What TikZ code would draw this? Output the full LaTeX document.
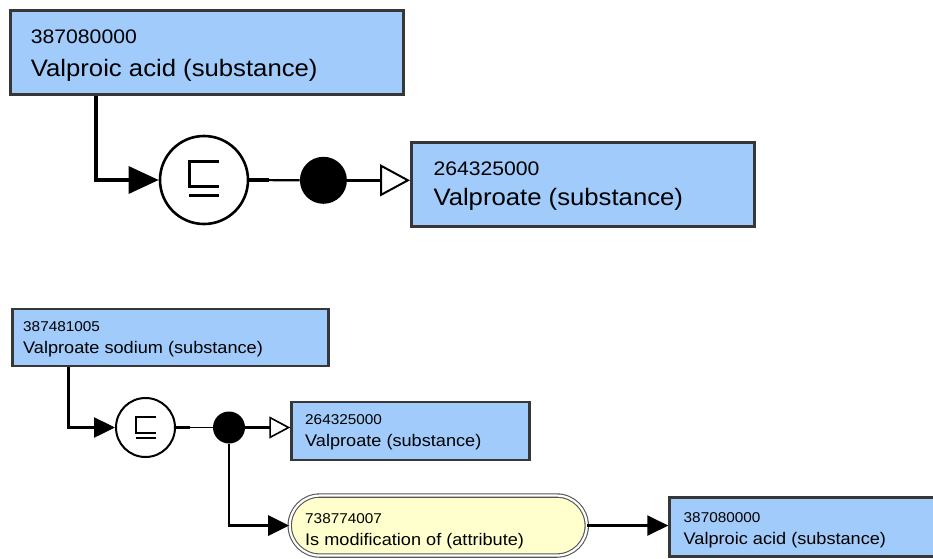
\documentclass[tikz,border=0pt]{standalone}
\usepackage{fontspec}
\setmainfont{Liberation Sans}
\newfontfamily\diagfont[FakeStretch=1.08]{Liberation Sans}
\usetikzlibrary{arrows.meta,calc}
\definecolor{conceptblue}{RGB}{161,203,250}
\definecolor{attrfill}{RGB}{255,255,206}
\definecolor{boxedge}{RGB}{55,55,55}
\definecolor{pilledge}{RGB}{85,85,85}
\begin{document}
\begin{tikzpicture}[x=1pt,y=-1pt,
  bigbox/.style={draw=boxedge, fill=conceptblue, line width=3.4pt, inner sep=0pt, anchor=north west},
  smallbox/.style={draw=boxedge, fill=conceptblue, line width=2.6pt, inner sep=0pt, anchor=north west},
  pillbox/.style={draw=pilledge, fill=attrfill, line width=1.1pt, double=white, double distance=2.2pt, rounded corners=30pt, inner sep=0pt, anchor=north west},
  bigid/.style={anchor=base west, inner sep=0pt, font=\diagfont\fontsize{19.6}{23}\selectfont},
  bigname/.style={anchor=base west, inner sep=0pt, font=\diagfont\fontsize{23.8}{28}\selectfont},
  smallid/.style={anchor=base west, inner sep=0pt, font=\diagfont\fontsize{14.2}{17}\selectfont},
  smallname/.style={anchor=base west, inner sep=0pt, font=\diagfont\fontsize{16.8}{20}\selectfont},
  bigring/.style={circle, draw=black, fill=white, line width=2.6pt, minimum size=88pt, inner sep=0pt},
  smallring/.style={circle, draw=black, fill=white, line width=2pt, minimum size=59pt, inner sep=0pt},
  bigdot/.style={circle, fill=black, minimum size=47pt, inner sep=0pt},
  smalldot/.style={circle, fill=black, minimum size=32pt, inner sep=0pt},
  bigline/.style={line width=3.2pt, draw=black},
  smallline/.style={line width=2.5pt, draw=black},
  bigfill/.style={-{Triangle[length=30pt, width=27pt]}},
  smallfill/.style={-{Triangle[length=21pt, width=20pt]}},
  bigopen/.style={-{Triangle[open, fill=white, length=30pt, width=32pt, line width=2pt]}},
  smallopen/.style={-{Triangle[open, fill=white, length=21pt, width=22pt, line width=1.6pt]}},
  bigsym/.style={line width=3pt},
  smallsym/.style={line width=2pt}
]
\useasboundingbox (0,0) rectangle (933,558);
\clip (0,0) rectangle (933,558);

% ---------- top diagram ----------
\node[bigbox, minimum width=393pt, minimum height=84pt] (b1) at (8.7,8.7) {};
\node[bigid] (b1id) at (30.7,43) {387080000};
\node[bigname] (b1nm) at (30.7,76) {Valproic acid (substance)};

\node[bigbox, minimum width=343pt, minimum height=84pt] (b2) at (410,141) {};
\node[bigid] (b2id) at (433.3,175.5) {264325000};
\node[bigname] (b2nm) at (433.3,205.5) {Valproate (substance)};

\node[bigring] (c1) at (204,180) {};
\node[bigdot] (d1) at (323.4,180.3) {};

\draw[bigline, bigfill] ([xshift=87.3pt]b1.south west) |- (c1.west);
\draw[line width=2.2pt] (c1.east) -- (d1.west);
\draw[line width=3.2pt] (c1.east) -- ++(20,0);
\draw[bigline, bigopen] (d1.east) -- (d1.east -| b2.west);

\draw[bigsym] ([shift={(15.3,-19)}]c1.center) -- ++(-30,0) -- ++(0,25.7) -- ++(30,0);
\draw[bigsym] ([shift={(-14.7,15)}]c1.center) -- ++(30,0);

% ---------- bottom diagram ----------
\node[smallbox, minimum width=316pt, minimum height=57pt] (b3) at (11.3,307.5) {};
\node[smallid] (b3id) at (23,331.5) {387481005};
\node[smallname] (b3nm) at (23,353.5) {Valproate sodium (substance)};

\node[smallbox, minimum width=238pt, minimum height=58pt] (b4) at (290.3,400.5) {};
\node[smallid] (b4id) at (305,424.5) {264325000};
\node[smallname] (b4nm) at (305,446) {Valproate (substance)};

\node[pillbox, minimum width=297pt, minimum height=60pt] (p1) at (289.2,495) {};
\node[smallid] (p1id) at (305,523) {738774007};
\node[smallname] (p1nm) at (305,545) {Is modification of (attribute)};

\node[smallbox, minimum width=300pt, minimum height=59pt] (b5) at (668.3,496.3) {};
\node[smallid] (b5id) at (683.5,522) {387080000};
\node[smallname] (b5nm) at (683.5,544.5) {Valproic acid (substance)};

\node[smallring] (c2) at (145.5,427.5) {};
\node[smalldot] (d2) at (229,427.5) {};

\draw[smallline, smallfill] ([xshift=57pt]b3.south west) |- (c2.west);
\draw[line width=1.8pt] (c2.east) -- (d2.west);
\draw[line width=2.6pt] (c2.east) -- ++(14,0);
\draw[smallline, smallopen] (d2.east) -- (d2.east -| b4.west);
\draw[smallline, smallfill] (d2.south) |- (p1.west);
\draw[smallline, smallfill] (p1.east) -- (p1.east -| b5.west);

\draw[smallsym] ([shift={(10.5,-10.8)}]c2.center) -- ++(-20.3,0) -- ++(0,16) -- ++(20.3,0);
\draw[smallsym] ([shift={(-9.8,10.8)}]c2.center) -- ++(20.3,0);
\end{tikzpicture}
\end{document}
